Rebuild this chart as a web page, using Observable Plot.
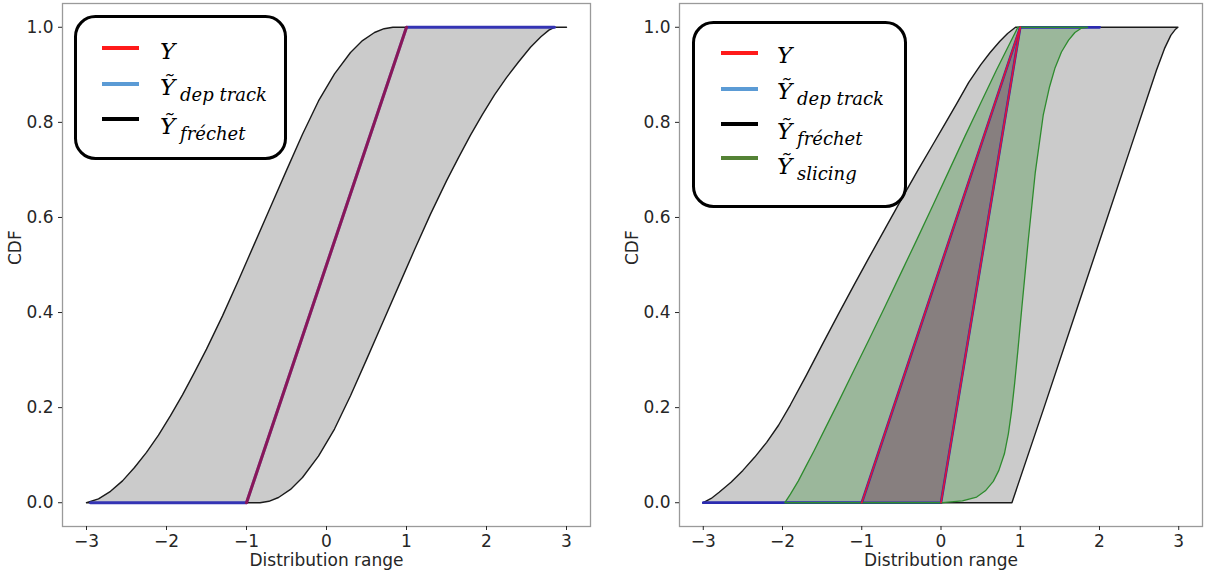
<!DOCTYPE html>
<html>
<head>
<meta charset="utf-8">
<script src="https://cdn.jsdelivr.net/npm/d3@7"></script>
<script src="https://cdn.jsdelivr.net/npm/@observablehq/plot@0.6"></script>
<style>
  body { margin: 0; background: #fff; }
  #wrap { position: relative; width: 1205px; height: 576px; overflow: hidden; background: #fff; }
  .panel { position: absolute; top: 0; }
  #overlay { position: absolute; left: 0; top: 0; }
</style>
</head>
<body>
<div id="wrap">
  <div class="panel" id="left" style="left:0px"></div>
  <div class="panel" id="right" style="left:600px"></div>
</div>
<script>
// ---------- data (x, CDF) ----------
const xTicks = [-3, -2, -1, 0, 1, 2, 3];
const yTicks = [0, 0.2, 0.4, 0.6, 0.8, 1.0];

// Left panel
const frechetUpperL = [[-3.00,0.000],[-2.85,0.008],[-2.70,0.024],[-2.55,0.046],[-2.40,0.074],[-2.25,0.106],[-2.10,0.142],[-1.95,0.183],[-1.80,0.227],[-1.65,0.274],[-1.50,0.323],[-1.30,0.393],[-1.10,0.468],[-0.90,0.545],[-0.70,0.622],[-0.50,0.699],[-0.30,0.775],[-0.10,0.845],[0.10,0.902],[0.30,0.947],[0.45,0.972],[0.60,0.989],[0.72,0.997],[0.83,1.000]];
const frechetLowerL = [[-0.83,0.000],[-0.72,0.003],[-0.60,0.011],[-0.45,0.028],[-0.30,0.053],[-0.10,0.098],[0.10,0.155],[0.30,0.225],[0.50,0.301],[0.70,0.378],[0.90,0.455],[1.10,0.532],[1.30,0.607],[1.50,0.677],[1.65,0.726],[1.80,0.773],[1.95,0.817],[2.10,0.858],[2.25,0.894],[2.40,0.927],[2.55,0.958],[2.68,0.980],[2.78,0.994],[2.85,1.000]];
const depTrackL = [[-2.95,0],[-1,0],[1,1],[2.85,1]];
const yTrueL = [[-1,0],[1,1]];

// Right panel
const frechetUpperR = [[-3.00,0.000],[-2.90,0.009],[-2.80,0.022],[-2.65,0.043],[-2.50,0.068],[-2.35,0.096],[-2.20,0.127],[-2.05,0.163],[-1.90,0.206],[-1.70,0.268],[-1.50,0.332],[-1.30,0.395],[-1.10,0.457],[-0.90,0.518],[-0.70,0.578],[-0.50,0.638],[-0.30,0.697],[-0.10,0.754],[0.05,0.797],[0.20,0.840],[0.35,0.884],[0.50,0.921],[0.62,0.947],[0.74,0.970],[0.84,0.987],[0.94,1.000]];
const frechetLowerR = [[0.895,0.000],[1.30,0.200],[1.70,0.400],[2.10,0.600],[2.40,0.750],[2.60,0.850],[2.72,0.910],[2.82,0.955],[2.90,0.983],[2.96,0.996],[2.99,1.000]];
const slicingUpperR = [[-1.97,0.000],[-1.90,0.018],[-1.80,0.046],[-1.70,0.078],[-1.60,0.110],[-1.45,0.160],[-1.30,0.210],[-1.10,0.278],[-0.90,0.346],[-0.70,0.415],[-0.50,0.485],[-0.30,0.555],[-0.10,0.626],[0.10,0.698],[0.30,0.770],[0.50,0.840],[0.70,0.910],[0.85,0.960],[0.97,1.000]];
const slicingLowerR = [[0.02,0.000],[0.27,0.004],[0.45,0.012],[0.56,0.025],[0.66,0.045],[0.73,0.068],[0.80,0.103],[0.85,0.145],[0.89,0.192],[0.93,0.252],[0.97,0.320],[1.02,0.410],[1.10,0.550],[1.19,0.695],[1.29,0.815],[1.37,0.875],[1.44,0.915],[1.52,0.948],[1.61,0.973],[1.69,0.989],[1.77,0.998],[1.85,1.000]];
const depUpperR = [[-3,0],[-1,0],[1,1],[2,1]];
const depLowerR = [[-3,0],[0,0],[1,1],[2,1]];
const yUpperR = [[-1,0],[1,1]];
const yLowerR = [[0,0],[1,1]];

// Legends
const legendLeft = [
  {main: "Y", sub: "", color: "#ff1a1a"},
  {main: "Ỹ", sub: "dep track", color: "#5b9bd5"},
  {main: "Ỹ", sub: "fréchet", color: "#000000"}
];
const legendRight = [
  {main: "Y", sub: "", color: "#ff1a1a"},
  {main: "Ỹ", sub: "dep track", color: "#5b9bd5"},
  {main: "Ỹ", sub: "fréchet", color: "#000000"},
  {main: "Ỹ", sub: "slicing", color: "#548235"}
];

// ---------- helpers ----------
const pts = a => a.map(([x, y]) => ({x, y}));
const fmtX = d => (d < 0 ? "\u2212" + (-d) : String(d));
const fmtY = d3.format(".1f");

function panel({width, marginLeft, marginRight, marks}) {
  return Plot.plot({
    width, height: 576,
    marginLeft, marginRight, marginTop: 3, marginBottom: 50,
    x: {domain: [-3.3, 3.3]},
    y: {domain: [-0.05, 1.05]},
    style: {fontFamily: "'DejaVu Sans', sans-serif", fontSize: "17px", color: "#262626", background: "transparent", overflow: "visible"},
    marks: [
      ...marks,
      Plot.frame({stroke: "#9a9a9a", strokeWidth: 1.3}),
      Plot.axisX({ticks: xTicks, tickSize: 4, tickPadding: 4, tickFormat: fmtX, label: null, fontSize: 17}),
      Plot.axisY({ticks: yTicks, tickSize: 4, tickPadding: 5, tickFormat: fmtY, label: null, fontSize: 17}),
      Plot.text(["Distribution range"], {text: d => d, frameAnchor: "bottom", dy: 34, lineAnchor: "middle", fontSize: 17}),
      Plot.text(["CDF"], {text: d => d, frameAnchor: "left", dx: -47, rotate: -90, lineAnchor: "middle", fontSize: 17})
    ]
  });
}

// ---------- left panel ----------
const grayPolyL = [...frechetUpperL, [3, 1], ...frechetLowerL.slice().reverse(), [-3, 0]];
const leftPlot = panel({
  width: 600, marginLeft: 62, marginRight: 10,
  marks: [
    Plot.line(pts(grayPolyL), {x: "x", y: "y", fill: "#cbcbcb", stroke: "#1a1a1a", strokeWidth: 1.4}),
    Plot.line(pts(depTrackL), {x: "x", y: "y", stroke: "#3434b4", strokeWidth: 3}),
    Plot.line(pts(yTrueL), {x: "x", y: "y", stroke: "#d00010", strokeOpacity: 0.55, strokeWidth: 3})
  ]
});
document.getElementById("left").appendChild(leftPlot);

// ---------- right panel ----------
const grayPolyR = [...frechetUpperR, ...frechetLowerR.slice().reverse(), [-3, 0]];
const greenPolyR = [...slicingUpperR, ...slicingLowerR.slice().reverse(), slicingUpperR[0]];
const darkPolyR = [...yUpperR, ...yLowerR.slice().reverse(), yUpperR[0]];
const rightPlot = panel({
  width: 605, marginLeft: 79, marginRight: 3,
  marks: [
    Plot.line(pts(grayPolyR), {x: "x", y: "y", fill: "#cbcbcb", stroke: "#1a1a1a", strokeWidth: 1.4}),
    Plot.line(pts(greenPolyR), {x: "x", y: "y", fill: "#2e8b2e", fillOpacity: 0.3, stroke: "none"}),
    Plot.line(pts(darkPolyR), {x: "x", y: "y", fill: "#877f7f", stroke: "none"}),
    Plot.line(pts(depUpperR), {x: "x", y: "y", stroke: "#2b2bb0", strokeWidth: 2.6}),
    Plot.line(pts(depLowerR), {x: "x", y: "y", stroke: "#2b2bb0", strokeWidth: 2.6}),
    Plot.line(pts(greenPolyR), {x: "x", y: "y", stroke: "#2e8b2e", strokeWidth: 1.3}),
    Plot.line(pts(yUpperR), {x: "x", y: "y", stroke: "#dc143c", strokeWidth: 1.7}),
    Plot.line(pts(yLowerR), {x: "x", y: "y", stroke: "#dc143c", strokeWidth: 1.7})
  ]
});
document.getElementById("right").appendChild(rightPlot);

// ---------- legends (overlay) ----------
const svg = d3.select("#wrap").append("svg")
  .attr("id", "overlay").attr("width", 1205).attr("height", 576);

function drawLegend(box, items, lineX, lineYs, textX, baseOffsets) {
  svg.append("rect")
    .attr("x", box.x).attr("y", box.y).attr("width", box.w).attr("height", box.h)
    .attr("rx", 20).attr("ry", 20)
    .attr("fill", "#fff").attr("stroke", "#000").attr("stroke-width", 3);
  items.forEach((it, i) => {
    const ly = lineYs[i];
    svg.append("line").attr("x1", lineX).attr("x2", lineX + 37).attr("y1", ly).attr("y2", ly)
      .attr("stroke", it.color).attr("stroke-width", 4);
    const by = ly + baseOffsets[i];
    svg.append("text").attr("x", textX).attr("y", by)
      .attr("font-family", "'DejaVu Serif', serif").attr("font-style", "italic")
      .attr("font-size", 23).attr("fill", "#000").text(it.main);
    if (it.sub) {
      svg.append("text").attr("x", textX + 20).attr("y", by + 6)
        .attr("font-family", "'DejaVu Serif', serif").attr("font-style", "italic")
        .attr("font-size", 18).attr("fill", "#000").text(it.sub);
    }
  });
}
drawLegend({x: 75.5, y: 16.5, w: 210, h: 142}, legendLeft, 102, [48, 84, 119], 160, [11, 11, 15]);
drawLegend({x: 693.5, y: 22.5, w: 212, h: 184}, legendRight, 721, [53, 89, 124, 158], 777, [10, 10, 15, 16]);
</script>
</body>
</html>
